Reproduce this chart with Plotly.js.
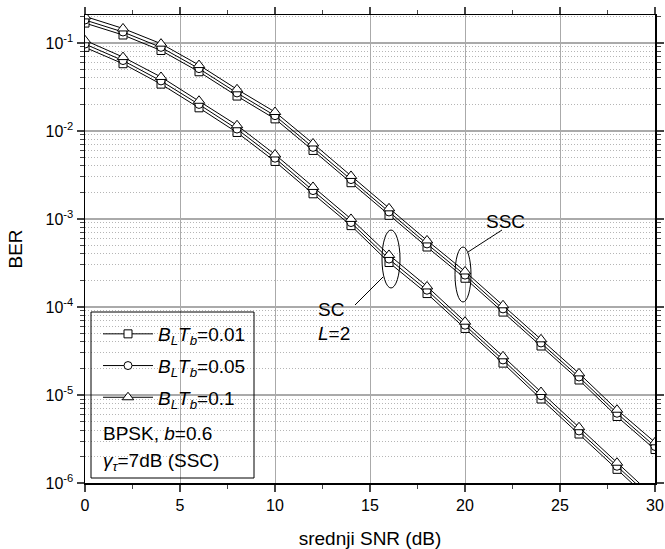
<!DOCTYPE html>
<html>
<head>
<meta charset="utf-8">
<script src="https://cdn.plot.ly/plotly-3.0.1.min.js"></script>
<style>
  html, body { margin: 0; padding: 0; background: #fff; }
  #chart { width: 665px; height: 549px; }
</style>
</head>
<body>
<div id="chart"></div>
<script>
// ---- data ----
var snr = [0, 2, 4, 6, 8, 10, 12, 14, 16, 18, 20, 22, 24, 26, 28, 30];

// SC, L=2
var sc_001 = [0.089, 0.058, 0.034, 0.0183, 0.0096, 0.0045, 0.00193, 0.00084, 0.00032, 0.000142, 0.000057, 0.000023, 0.0000090, 0.0000036, 0.00000143, 0.00000057];
var sc_005 = [0.097, 0.063, 0.037, 0.0200, 0.0105, 0.0049, 0.00210, 0.00091, 0.00035, 0.000155, 0.000062, 0.000025, 0.0000098, 0.0000039, 0.00000155, 0.00000062];
var sc_01  = [0.107, 0.069, 0.041, 0.0220, 0.0116, 0.0054, 0.00231, 0.00100, 0.00039, 0.000171, 0.000068, 0.0000275, 0.0000108, 0.0000043, 0.00000170, 0.00000068];

// SSC
var ssc_001 = [0.168, 0.123, 0.082, 0.047, 0.0249, 0.0137, 0.0060, 0.00258, 0.00110, 0.00048, 0.000212, 0.0000875, 0.0000360, 0.0000148, 0.0000057, 0.0000024];
var ssc_005 = [0.182, 0.133, 0.089, 0.051, 0.0270, 0.0149, 0.0065, 0.00280, 0.00120, 0.00052, 0.000230, 0.0000950, 0.0000390, 0.0000160, 0.0000062, 0.0000026];
var ssc_01  = [0.200, 0.146, 0.098, 0.056, 0.0297, 0.0164, 0.0072, 0.00308, 0.00132, 0.00057, 0.000253, 0.0001045, 0.0000429, 0.0000176, 0.0000068, 0.0000029];

var legendNames = [
  '<i>B</i><sub><i>L</i></sub><i>T</i><sub><i>b</i></sub>=0.01',
  '<i>B</i><sub><i>L</i></sub><i>T</i><sub><i>b</i></sub>=0.05',
  '<i>B</i><sub><i>L</i></sub><i>T</i><sub><i>b</i></sub>=0.1'
];
var symbols = ['square', 'circle', 'triangle-up'];
var yTickVals = [1e-6, 1e-5, 1e-4, 1e-3, 1e-2, 1e-1];
var yTickText = ['10<sup>-6</sup>', '10<sup>-5</sup>', '10<sup>-4</sup>', '10<sup>-3</sup>', '10<sup>-2</sup>', '10<sup>-1</sup>'];
var xTickVals = [0, 5, 10, 15, 20, 25, 30];

// ---- geometry helpers (pixel -> paper) ----
var W = 665, H = 549;
var M = {l: 85, r: 10, t: 15, b: 66};
var PW = W - M.l - M.r, PH = H - M.t - M.b;
function px(x) { return (x - M.l) / PW; }
function py(y) { return (M.t + PH - y) / PH; }

var FONT = 'Liberation Sans, Arial, sans-serif';

function mk(y, i, show) {
  return {
    x: snr, y: y, type: 'scatter', mode: 'lines+markers',
    name: legendNames[i], legendgroup: 'g' + i, showlegend: show,
    line: {color: '#000', width: 1},
    marker: {symbol: symbols[i], size: i === 2 ? 10 : 8, color: '#fff', line: {width: 1, color: '#000'}},
    cliponaxis: true
  };
}

var traces = [
  mk(sc_001, 0, true), mk(sc_005, 1, true), mk(sc_01, 2, true),
  mk(ssc_001, 0, false), mk(ssc_005, 1, false), mk(ssc_01, 2, false)
];

var layout = {
  width: W, height: H,
  margin: M,
  paper_bgcolor: '#fff', plot_bgcolor: '#fff',
  font: {family: FONT, size: 16, color: '#000'},
  showlegend: true,
  legend: {
    x: px(98), y: py(315), xanchor: 'left', yanchor: 'top',
    bgcolor: 'rgba(0,0,0,0)', borderwidth: 0,
    font: {family: FONT, size: 19, color: '#000'},
    itemwidth: 50, tracegroupgap: 4
  },
  xaxis: {
    range: [0, 30], tickvals: xTickVals, ticks: 'outside', ticklen: 7, tickwidth: 1.5,
    showline: true, linewidth: 1.5, linecolor: '#000', mirror: 'ticks',
    showgrid: true, gridcolor: '#aaaaaa', gridwidth: 1, zeroline: false,
    tickfont: {family: FONT, size: 16},
    minor: {dtick: 2.5, ticks: 'outside', ticklen: 4, tickwidth: 1, showgrid: false},
    title: {text: 'srednji SNR (dB)', font: {family: FONT, size: 19}, standoff: 20}
  },
  yaxis: {
    type: 'log', range: [-6, -0.683], tickvals: yTickVals, ticktext: yTickText,
    ticks: 'outside', ticklen: 7, tickwidth: 1.5,
    showline: true, linewidth: 1.5, linecolor: '#000', mirror: 'ticks',
    showgrid: true, gridcolor: '#aaaaaa', gridwidth: 2, zeroline: false,
    tickfont: {family: FONT, size: 16},
    minor: {dtick: 'D1', ticks: 'outside', ticklen: 4, tickwidth: 1, showgrid: true, gridcolor: '#b5b5b5', griddash: '1px,2px', gridwidth: 1},
    title: {text: 'BER', font: {family: FONT, size: 19}, standoff: 18}
  },
  shapes: [
    // legend frame
    {type: 'rect', xref: 'paper', yref: 'paper', x0: px(91), x1: px(254), y0: py(478), y1: py(312),
     line: {color: '#000', width: 1}, fillcolor: 'rgba(0,0,0,0)', layer: 'above'},
    // SC ellipse + pointer
    {type: 'circle', xref: 'paper', yref: 'paper', x0: px(382), x1: px(400), y0: py(288), y1: py(230),
     line: {color: '#000', width: 1}},
    {type: 'line', xref: 'paper', yref: 'paper', x0: px(383), y0: py(277), x1: px(355), y1: py(305),
     line: {color: '#000', width: 1}},
    // SSC ellipse + pointer
    {type: 'circle', xref: 'paper', yref: 'paper', x0: px(455), x1: px(471), y0: py(302), y1: py(247),
     line: {color: '#000', width: 1}},
    {type: 'line', xref: 'paper', yref: 'paper', x0: px(468), y0: py(252), x1: px(502), y1: py(230),
     line: {color: '#000', width: 1}}
  ],
  annotations: [
    {xref: 'paper', yref: 'paper', x: px(505), y: py(221), text: 'SSC', showarrow: false,
     font: {family: FONT, size: 19}, xanchor: 'center', yanchor: 'middle'},
    {xref: 'paper', yref: 'paper', x: px(331), y: py(309), text: 'SC', showarrow: false,
     font: {family: FONT, size: 19}, xanchor: 'center', yanchor: 'middle'},
    {xref: 'paper', yref: 'paper', x: px(334), y: py(333), text: '<i>L</i>=2', showarrow: false,
     font: {family: FONT, size: 19}, xanchor: 'center', yanchor: 'middle'},
    {xref: 'paper', yref: 'paper', x: px(101), y: py(433), text: 'BPSK, <i>b</i>=0.6', showarrow: false,
     font: {family: FONT, size: 19}, xanchor: 'left', yanchor: 'middle'},
    {xref: 'paper', yref: 'paper', x: px(101), y: py(462), text: '<i>γ</i><sub><i>τ</i></sub>=7dB (SSC)', showarrow: false,
     font: {family: FONT, size: 19}, xanchor: 'left', yanchor: 'middle'}
  ]
};

Plotly.newPlot('chart', traces, layout, {displayModeBar: false, staticPlot: true});
</script>
</body>
</html>
